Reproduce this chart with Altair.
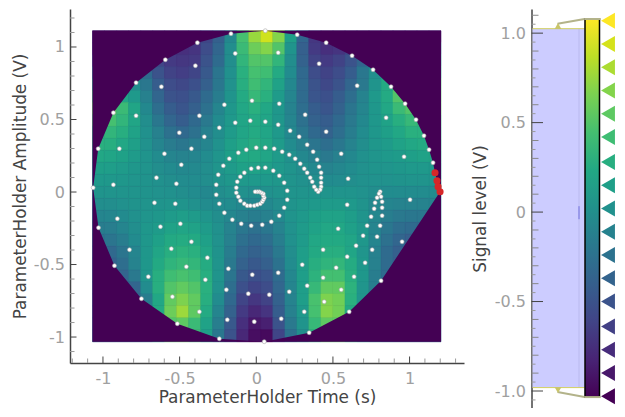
import altair as alt
import pandas as pd

time_points = [0.059,-0.165,-0.384,-0.593,-0.784,-0.932,-1.031,-1.064,-0.137,0.143,0.267,0.410,-0.397,-0.619,-0.784,-0.893,-0.932,-0.028,0.150,-0.208,0.319,-0.371,-0.137,-0.039,0.059,0.143,-0.241,-0.502,-0.339,0.221,0.280,0.332,0.371,-0.423,-0.599,-0.489,-0.651,-0.521,-0.664,-0.528,
 0.397,0.410,0.423,0.423,0.423,0.423,0.417,0.404,0.391,0.378,0.365,0.352,0.332,0.313,0.287,0.254,0.215,0.169,0.117,0.059,0.000,-0.065,-0.117,-0.176,-0.215,-0.248,-0.261,-0.261,-0.241,-0.208,-0.156,-0.098,-0.033,0.039,0.098,0.150,0.182,0.202,0.202,0.182,0.150,0.111,0.059,0.013,-0.033,-0.078,-0.104,-0.124,-0.130,-0.130,-0.117,-0.104,-0.078,-0.059,-0.039,-0.013,0.007,0.026,0.039,0.046,0.052,0.046,0.046,0.033,0.020,0.007,-0.007,
 -0.906,-0.625,-0.495,-1.029,-0.423,-0.554,-0.827,-0.319,-0.925,-0.456,-0.704,-0.332,-0.182,-0.026,0.143,0.300,-0.195,-0.052,0.085,0.215,0.332,-0.749,-0.547,-0.371,0.313,-0.189,-0.013,0.163,-0.515,0.345,-0.241,0.052,
 0.534,0.749,0.821,0.723,0.808,0.697,0.788,0.651,0.756,0.951,0.593,0.710,0.436,0.521,0.638,0.436,0.814,0.554,0.443,0.606,
 0.808,0.801,0.814,0.788,0.821,0.775,0.821,0.769,0.599,0.593,1.003,0.964,1.153,0.554,1.127,1.094,0.456,
 0.456,0.625,0.762,0.879,0.971,1.042,0.658,0.847]
amp_points = [1.112,1.092,1.030,0.912,0.754,0.547,0.299,0.030,0.956,0.961,1.085,0.885,0.871,0.726,0.526,0.299,0.050,0.630,0.609,0.602,0.533,0.526,0.478,0.492,0.485,0.464,0.443,0.409,0.381,0.423,0.381,0.326,0.278,0.299,0.264,0.188,0.099,0.057,-0.074,-0.081,
 0.223,0.174,0.133,0.099,0.064,0.036,0.016,0.002,0.016,0.036,0.071,0.099,0.133,0.161,0.195,0.230,0.257,0.278,0.299,0.306,0.306,0.292,0.271,0.230,0.181,0.119,0.050,-0.019,-0.081,-0.143,-0.191,-0.219,-0.232,-0.226,-0.205,-0.163,-0.108,-0.053,0.009,0.064,0.112,0.147,0.168,0.168,0.161,0.133,0.105,0.071,0.030,-0.005,-0.032,-0.060,-0.081,-0.094,-0.094,-0.094,-0.088,-0.081,-0.067,-0.053,-0.039,-0.026,-0.012,-0.005,0.002,0.002,0.002,
 -0.184,-0.239,-0.219,-0.246,-0.343,-0.391,-0.398,-0.453,-0.508,-0.515,-0.584,-0.605,-0.529,-0.570,-0.557,-0.501,-0.674,-0.701,-0.708,-0.688,-0.646,-0.736,-0.722,-0.826,-0.826,-0.881,-0.894,-0.874,-0.908,-0.970,-1.012,-1.032,
 -0.253,-0.170,-0.163,-0.232,-0.232,-0.301,-0.308,-0.370,-0.398,-0.343,-0.446,-0.488,-0.398,-0.522,-0.584,-0.591,-0.612,-0.674,-0.757,-0.826,
 0.002,-0.012,-0.032,-0.039,-0.067,-0.074,-0.108,-0.115,0.092,-0.088,-0.053,0.243,0.202,0.264,0.292,0.388,0.416,
 1.030,0.940,0.843,0.726,0.609,0.499,0.733,0.512]

latest_time = [1.166,1.179,1.186,1.199]
latest_amp = [0.133,0.078,0.037,0.002]

hull_top_time = [-1.068,-1.064,-1.031,-0.932,-0.784,-0.593,-0.384,-0.165,0.059,0.267,0.456,0.625,0.762,0.879,0.971,1.042,1.094,1.127,1.153,1.166,1.179,1.186,1.199,1.205]
hull_top_amp = [0.03,0.03,0.299,0.547,0.754,0.912,1.030,1.092,1.112,1.085,1.030,0.940,0.843,0.726,0.609,0.499,0.388,0.292,0.202,0.133,0.078,0.037,0.002,0.002]
hull_low_time = [-1.068,-1.064,-1.029,-0.925,-0.749,-0.515,-0.241,0.052,0.345,0.606,0.814,1.199,1.205]
hull_low_amp = [0.03,0.03,-0.246,-0.508,-0.736,-0.908,-1.012,-1.032,-0.970,-0.826,-0.612,0.002,0.002]

time_edges = [-1.068,-0.990,-0.911,-0.833,-0.754,-0.676,-0.598,-0.519,-0.441,-0.362,-0.284,-0.206,-0.127,-0.049,0.030,0.108,0.187,0.265,0.343,0.422,0.500,0.579,0.657,0.735,0.814,0.892,0.971,1.049,1.127,1.205]
amp_edges = [1.112,1.030,0.947,0.865,0.782,0.700,0.617,0.535,0.452,0.370,0.287,0.205,0.122,0.040,-0.043,-0.125,-0.208,-0.290,-0.373,-0.455,-0.538,-0.620,-0.703,-0.785,-0.868,-0.950,-1.033]

# signal level in hundredths of a volt, one list per amplitude row, top row first
signal_rows = [
[-80,-80,-80,-80,-80,-80,-80,-80,-75,-60,-40,-5,45,75,92,68,15,-35,-70,-80,-80,-80,-80,-80,-80,-80,-80,-80,-80],
[-80,-80,-80,-80,-70,-72,-75,-75,-72,-55,-35,0,40,60,68,50,5,-40,-68,-75,-72,-60,-50,-40,-30,-30,-30,-30,-30],
[-60,-60,-60,-40,-50,-60,-68,-70,-68,-50,-30,0,35,50,50,35,0,-38,-62,-68,-62,-50,-35,-20,0,0,0,0,0],
[-20,-20,-20,-10,-30,-50,-62,-65,-60,-45,-22,2,30,45,42,25,-2,-32,-55,-62,-55,-42,-20,0,20,20,20,20,20],
[20,20,15,0,-20,-42,-55,-58,-52,-40,-20,3,28,42,35,18,-5,-30,-50,-58,-50,-35,-18,5,25,45,45,45,45],
[40,40,20,10,-12,-35,-50,-52,-45,-30,-15,5,25,38,30,12,-8,-30,-48,-52,-42,-28,-10,10,25,50,50,50,50],
[55,55,40,20,-5,-28,-42,-48,-40,-25,-8,8,22,30,22,8,-10,-28,-42,-48,-38,-22,-8,8,22,40,50,50,50],
[45,45,35,20,0,-20,-35,-42,-32,-18,-3,10,20,25,20,8,-8,-25,-38,-42,-32,-18,-5,8,18,28,38,35,35],
[30,35,28,18,2,-12,-25,-32,-25,-12,0,12,20,25,20,10,-5,-20,-32,-38,-28,-15,-2,8,15,22,30,30,30],
[30,28,22,15,3,-8,-16,-20,-15,-8,3,15,22,27,22,12,-2,-12,-22,-28,-20,-10,0,8,12,18,22,25,25],
[22,20,17,12,5,-2,-8,-10,-8,-2,6,15,22,24,20,12,2,-5,-12,-18,-12,-5,2,6,10,12,15,18,20],
[15,14,12,8,5,0,-3,-5,-4,0,6,12,17,18,15,10,5,0,-5,-10,-6,-2,2,5,6,8,10,10,10],
[10,9,8,6,4,2,0,-2,-2,0,4,8,10,10,10,8,5,2,0,-3,-2,0,2,3,3,4,5,5,5],
[5,5,5,5,4,3,2,0,-2,-5,0,3,2,0,2,4,5,5,5,5,5,5,3,0,-2,-2,-2,-2,-2],
[0,0,2,4,5,5,6,5,2,-2,-2,-2,-5,-6,-5,0,5,8,10,12,12,10,4,-4,-8,-10,-10,-10,-10],
[-8,-7,-3,2,6,8,12,14,12,6,0,-6,-12,-15,-12,-4,5,10,15,18,18,13,5,-6,-14,-18,-20,-20,-20],
[-15,-14,-8,0,8,12,18,20,18,12,2,-10,-20,-25,-20,-10,3,12,18,22,22,16,8,-8,-20,-28,-30,-30,-30],
[-25,-22,-15,-3,8,16,24,26,24,16,3,-12,-26,-32,-28,-14,2,12,22,24,24,20,8,-8,-25,-35,-40,-40,-40],
[-35,-32,-22,-8,8,20,28,32,30,20,4,-15,-32,-38,-34,-18,0,14,24,28,28,20,6,-12,-30,-40,-40,-40,-40],
[-40,-38,-28,-10,8,24,34,38,36,26,5,-18,-38,-45,-40,-24,-2,14,28,34,36,26,8,-12,-30,-40,-40,-40,-40],
[-40,-40,-36,-18,6,28,42,46,42,28,5,-22,-45,-52,-48,-30,-6,14,32,44,44,28,8,-15,-30,-40,-40,-40,-40],
[-40,-40,-40,-35,-2,28,50,56,50,30,3,-28,-52,-60,-55,-34,-8,14,38,56,56,32,6,-15,-30,-40,-40,-40,-40],
[-40,-40,-40,-35,-15,22,56,66,56,28,-2,-32,-60,-70,-62,-38,-10,14,46,66,62,30,6,-15,-30,-40,-40,-40,-40],
[-40,-40,-40,-35,-20,25,60,76,55,25,-8,-38,-68,-80,-72,-42,-12,10,45,68,62,25,5,-15,-30,-40,-40,-40,-40],
[-40,-40,-40,-35,-20,20,50,55,40,18,-14,-45,-75,-90,-85,-50,-18,5,38,55,55,30,10,-15,-30,-40,-40,-40,-40],
[-40,-40,-40,-35,-20,20,50,55,40,15,-20,-50,-80,-96,-98,-60,-25,0,30,50,50,30,10,-15,-30,-40,-40,-40,-40],
]

x_ticks_minor = [-1.2,-1.1,-0.9,-0.8,-0.7,-0.6,-0.4,-0.3,-0.2,-0.1,0.1,0.2,0.3,0.4,0.6,0.7,0.8,0.9,1.1,1.2,1.3]
x_ticks_major = [-1,-0.5,0,0.5,1]
y_ticks_minor = [-1.1,-0.9,-0.8,-0.7,-0.6,-0.4,-0.3,-0.2,-0.1,0.1,0.2,0.3,0.4,0.6,0.7,0.8,0.9,1.1,1.2]
y_ticks_major = [-1,-0.5,0,0.5,1]
level_ticks_short = [-1.05,-0.95,-0.85,-0.75,-0.65,-0.55,-0.45,-0.35,-0.25,-0.15,-0.05,0.05,0.15,0.25,0.35,0.45,0.55,0.65,0.75,0.85,0.95,1.05]
level_ticks_long = [-0.9,-0.8,-0.7,-0.6,-0.4,-0.3,-0.2,-0.1,0.1,0.2,0.3,0.4,0.6,0.7,0.8,0.9,1.1]
level_ticks_major = [-1,-0.5,0,0.5,1]
gradient_levels = [1.07,0.94,0.81,0.68,0.55,0.42,0.28,0.15,0.02,-0.11,-0.24,-0.37,-0.50,-0.64,-0.77,-0.90,-1.03]
viridis_stops = ["#440154","#482475","#414487","#355f8d","#2a788e","#21918c","#22a884","#44bf70","#7ad151","#bddf26","#fde725"]

FONT = "DejaVu Sans"
LABEL = "#a0a0a0"
TITLE = "#444444"
DARK = "#440154"
xs = alt.Scale(domain=[-1.215, 1.355], nice=False, zero=False)
ys = alt.Scale(domain=[-1.179, 1.262], nice=False, zero=False)
ls = alt.Scale(domain=[-1.095, 1.135], nice=False, zero=False)
cs = alt.Scale(scheme="viridis", domain=[-1.03, 1.07])
W, H = 394, 354

x_axis = alt.Axis(values=x_ticks_major, grid=False, tickSize=0, labelPadding=7, titlePadding=3, labelExpr="'' + datum.value")
y_axis = alt.Axis(values=y_ticks_major, grid=False, tickSize=0, labelPadding=5.5, titlePadding=4, labelExpr="'' + datum.value")
l_axis = alt.Axis(values=level_ticks_major, grid=False, tickSize=0, labelPadding=6, titlePadding=4.5,
                  labelExpr="datum.value == 0 ? '0' : datum.value == 1 ? '1.0' : datum.value == -1 ? '-1.0' : '' + datum.value")
def X(f):
    return alt.X(f, scale=xs, axis=x_axis, title="ParameterHolder Time (s)")
def Y(f):
    return alt.Y(f, scale=ys, axis=y_axis, title="ParameterHolder Amplitude (V)")
def L(f):
    return alt.Y(f, scale=ls, axis=l_axis, title="Signal level (V)")

cells = pd.DataFrame([
    {"t0": time_edges[i], "t1": time_edges[i + 1], "a0": amp_edges[j], "a1": amp_edges[j + 1], "v": val * 0.01}
    for j, row in enumerate(signal_rows) for i, val in enumerate(row)
])
pts = pd.DataFrame({"t": time_points, "a": amp_points})
latest = pd.DataFrame({"t": latest_time, "a": latest_amp})
top = pd.DataFrame({"t": hull_top_time, "a": hull_top_amp, "b": [amp_edges[0]] * len(hull_top_time)})
low = pd.DataFrame({"t": hull_low_time, "a": hull_low_amp, "b": [amp_edges[-1]] * len(hull_low_time)})

back = alt.Chart(pd.DataFrame({"t0": [time_edges[0]], "t1": [time_edges[-1]], "a0": [amp_edges[0]], "a1": [amp_edges[-1]]})).mark_rect(color=DARK).encode(
    x=X("t0:Q"), x2="t1:Q", y=Y("a0:Q"), y2="a1:Q")
heat = alt.Chart(cells).mark_rect(strokeWidth=0.6).encode(
    x=X("t0:Q"), x2="t1:Q", y=Y("a0:Q"), y2="a1:Q",
    color=alt.Color("v:Q", scale=cs, legend=None),
    stroke=alt.Stroke("v:Q", scale=cs, legend=None))
def mask(df):
    return alt.Chart(df).mark_area(color=DARK, opacity=1).encode(x=X("t:Q"), y=Y("a:Q"), y2="b:Q")
dots = alt.Chart(pts).mark_point(filled=False, fill="white", fillOpacity=1, stroke="#aaaaaa", strokeWidth=0.6, size=16, opacity=1).encode(
    x=X("t:Q"), y=Y("a:Q"))
reds = alt.Chart(latest).mark_point(filled=True, color="#d62728", size=50, opacity=1).encode(
    x=X("t:Q"), y=Y("a:Q"))

def vticks(vals, length, color, ch):
    return alt.Chart(pd.DataFrame({"v": vals})).mark_rule(color=color, strokeWidth=1).encode(
        y=ch("v:Q"), x=alt.value(0), x2=alt.value(length))
def hticks(vals, length, color):
    return alt.Chart(pd.DataFrame({"v": vals})).mark_rule(color=color, strokeWidth=1).encode(
        x=X("v:Q"), y=alt.value(H), y2=alt.value(H - length))

main = alt.layer(
    back, heat, mask(top), mask(low), dots, reds,
    vticks(y_ticks_minor, 4.5, "#999999", Y), vticks(y_ticks_major, 6.5, TITLE, Y),
    hticks(x_ticks_minor, 4.5, "#999999"), hticks(x_ticks_major, 6.5, TITLE),
).properties(width=W, height=H)

# colour-bar panel
RW, RH = 84, 399
cbar_top, cbar_low = 1.079, -1.034
hist_top, hist_low = 1.025, -0.981

hist = alt.Chart(pd.DataFrame({"a": [hist_top], "b": [hist_low]})).mark_rect(color="#ccccff").encode(
    y=L("a:Q"), y2="b:Q", x=alt.value(1), x2=alt.value(53))
hist_line = alt.Chart(pd.DataFrame({"a": [hist_top], "b": [hist_low]})).mark_rule(color="#babaee", strokeWidth=1).encode(
    y=L("a:Q"), y2="b:Q", x=alt.value(47.5))
hist_peak = alt.Chart(pd.DataFrame({"a": [0.033], "b": [-0.04]})).mark_rule(color="#7070dd", strokeWidth=1).encode(
    y=L("a:Q"), y2="b:Q", x=alt.value(47.5))
edge_lines = alt.Chart(pd.DataFrame({"v": [hist_top, hist_low]})).mark_rule(color="#d2cf60", strokeWidth=1).encode(
    y=L("v:Q"), x=alt.value(1), x2=alt.value(53))
cbar = alt.Chart(pd.DataFrame({"a": [cbar_top], "b": [cbar_low]})).mark_rect(
    stroke="black", strokeWidth=1.5,
    fill=alt.Gradient(gradient="linear", x1=0, x2=0, y1=1, y2=0,
                      stops=[alt.GradientStop(color=c, offset=i / 10) for i, c in enumerate(viridis_stops)])
).encode(y=L("a:Q"), y2="b:Q", x=alt.value(53.5), x2=alt.value(68))

def link(level_a, level_b, x0, x1):
    d = pd.DataFrame({"a": [level_a, level_b], "p": [x0, x1]})
    return alt.Chart(d).mark_line(color="#b3b38a", strokeWidth=2).encode(
        y=L("a:Q"), x=alt.X("p:Q", scale=alt.Scale(domain=[0, RW], nice=False, zero=False), axis=None))
links = [link(1.053, cbar_top, 26, 53), link(cbar_top, cbar_top, 53, 69),
         link(-1.006, cbar_low, 26, 53), link(cbar_low, cbar_low, 53, 69)]
up = alt.Chart(pd.DataFrame({"v": [1.04]})).mark_point(filled=True, shape="triangle-up", color="#c9c56a", size=45, opacity=1).encode(
    y=L("v:Q"), x=alt.value(26.5))
down = alt.Chart(pd.DataFrame({"v": [-0.995]})).mark_point(filled=True, shape="triangle-down", color="#c9c56a", size=45, opacity=1).encode(
    y=L("v:Q"), x=alt.value(26.5))
handles = alt.Chart(pd.DataFrame({"v": gradient_levels})).mark_point(
    filled=True, shape="triangle-left", size=256, opacity=1).encode(
    y=L("v:Q"), x=alt.value(76.5),
    color=alt.Color("v:Q", scale=cs, legend=None))

side = alt.layer(
    hist, hist_line, hist_peak, edge_lines, cbar, *links, up, down, handles,
    vticks(level_ticks_short, 4, "#999999", L), vticks(level_ticks_long, 7, "#888888", L),
    vticks(level_ticks_major, 11.5, TITLE, L),
).properties(width=RW, height=RH)

chart = alt.hconcat(main, side, spacing=7.5).properties(
    padding={"left": 3, "top": 1, "right": 0, "bottom": 0}
).configure_view(stroke=None).configure_axis(
    labelFont=FONT, titleFont=FONT, labelFontSize=16, titleFontSize=16.9,
    labelColor=LABEL, titleColor=TITLE, titleFontWeight="normal",
    domainColor=TITLE, domainWidth=1.5,
)
chart.save("out.html", embed_options={"renderer": "svg", "actions": False})
